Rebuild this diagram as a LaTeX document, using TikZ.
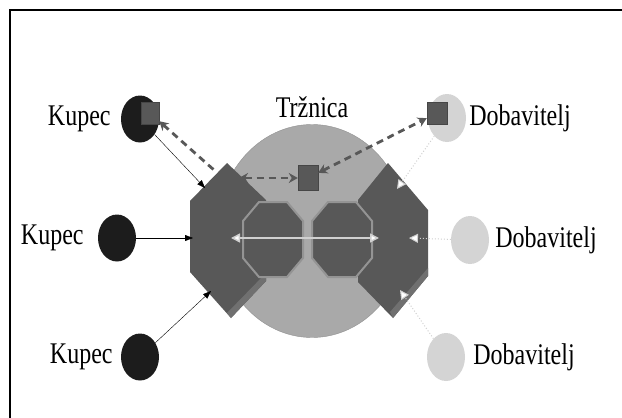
\documentclass[tikz,border=0pt]{standalone}
\usepackage{fontspec}
\setmainfont{Liberation Serif}
\usetikzlibrary{arrows.meta, positioning, shapes.geometric}
\definecolor{hubgray}{HTML}{585858}
\definecolor{bevelgray}{HTML}{707070}
\definecolor{marketgray}{HTML}{A9A9A9}
\definecolor{rimgray}{HTML}{949494}
\definecolor{buyerblack}{HTML}{1C1C1C}
\definecolor{suppliergray}{HTML}{D4D4D4}
\definecolor{flowgray}{HTML}{D0D0D0}

\begin{document}
\begin{tikzpicture}[x=1pt, y=-1pt,
    lbl/.style={font=\fontsize{24}{24}\selectfont, inner sep=0pt, yscale=1.25},
    buyer/.style={ellipse, fill=buyerblack, minimum width=38pt, minimum height=47pt, inner sep=0pt},
    supplier/.style={ellipse, fill=suppliergray, minimum width=38pt, minimum height=48pt, inner sep=0pt},
    token/.style={rectangle, fill=hubgray, draw=hubgray!80!black, minimum width=18pt, minimum height=22pt, inner sep=0pt},
    wire/.style={thin, black, -{Triangle[width=6pt, length=8pt]}},
    pipe/.style={line width=2.8pt, hubgray, dash pattern=on 7pt off 5pt, {Stealth[width=10pt, length=9pt]}-{Stealth[width=10pt, length=9pt]}},
    feed/.style={flowgray, line width=1pt, dotted, -{Triangle[width=9pt, length=9pt, fill=white]}}]
  \useasboundingbox (0,0) rectangle (622,418);
  \draw[line width=1.6pt] (10,418) -- (10,10) -- (622,10);

  \node[ellipse, fill=marketgray, draw=marketgray!85!black, minimum width=190pt, minimum height=213pt, inner sep=0pt] (market) at (312,231) {};
  \node[lbl, above=6pt of market] (marketlbl) {Tržnica};

  \fill[hubgray] (227,163) -- (190,201) -- (190,272) -- (231,318) -- (266,281) -- (266,200) -- cycle;
  \fill[bevelgray] (231,318) -- (266,281) -- (266,273) -- (227,313) -- cycle;
  \fill[hubgray] (388,163) -- (428,210) -- (428,276) -- (393,318) -- (358,282) -- (358,200) -- cycle;
  \fill[bevelgray] (393,318) -- (428,276) -- (428,268) -- (390,312) -- cycle;
  \draw[rimgray, line width=2pt, fill=hubgray] (243,221) -- (259,202) -- (287,202) -- (303,221) -- (303,258) -- (287,277) -- (259,277) -- (243,258) -- cycle;
  \draw[rimgray, line width=2pt, fill=hubgray] (312,221) -- (328,202) -- (356,202) -- (372,221) -- (372,258) -- (356,277) -- (328,277) -- (312,258) -- cycle;

  \coordinate (lhubN) at (205,188);
  \coordinate (lhubW) at (193,238);
  \coordinate (lhubS) at (211,291);
  \coordinate (lhubD) at (214,170);
  \coordinate (lhubM) at (239,178);
  \coordinate (rhubN) at (397,189);
  \coordinate (rhubE) at (409,238);
  \coordinate (rhubS) at (400,290);
  \coordinate (lflow) at (231,238);
  \coordinate (rflow) at (379,238);

  \node[buyer] (k1) at (140,119) {};
  \node[buyer] (k2) at (117,238) {};
  \node[buyer] (k3) at (140,357) {};
  \node[supplier] (d1) at (447,118) {};
  \node[supplier] (d2) at (470,240) {};
  \node[supplier] (d3) at (446,357) {};

  \node[token] (s1) at (150,113) {};
  \node[token, minimum width=20pt, minimum height=25pt] (s2) at (308,178) {};
  \node[token, minimum width=20pt] (s3) at (437,113) {};

  \node[lbl, left=10pt of k1] {Kupec};
  \node[lbl, left=14pt of k2] {Kupec};
  \node[lbl, left=8pt of k3] {Kupec};
  \node[lbl, right=3pt of d1] {Dobavitelj};
  \node[lbl, right=6pt of d2] {Dobavitelj};
  \node[lbl, right=8pt of d3] {Dobavitelj};

  \draw[wire] (k1) -- (lhubN);
  \draw[wire] (k2) -- (lhubW);
  \draw[wire] (k3) -- (lhubS);

  \draw[pipe, {Stealth[width=10pt, length=9pt]}-] (s1) -- (lhubD);
  \draw[pipe] (lhubM) -- (s2);
  \draw[pipe] (s2) -- (s3);

  \draw[flowgray, line width=1.5pt, {Triangle[width=9pt, length=9pt, fill=white]}-{Triangle[width=9pt, length=9pt, fill=white]}] (lflow) -- (rflow);
  \draw[feed] (d1) -- (rhubN);
  \draw[feed] (d2) -- (rhubE);
  \draw[feed] (d3) -- (rhubS);
\end{tikzpicture}
\end{document}
